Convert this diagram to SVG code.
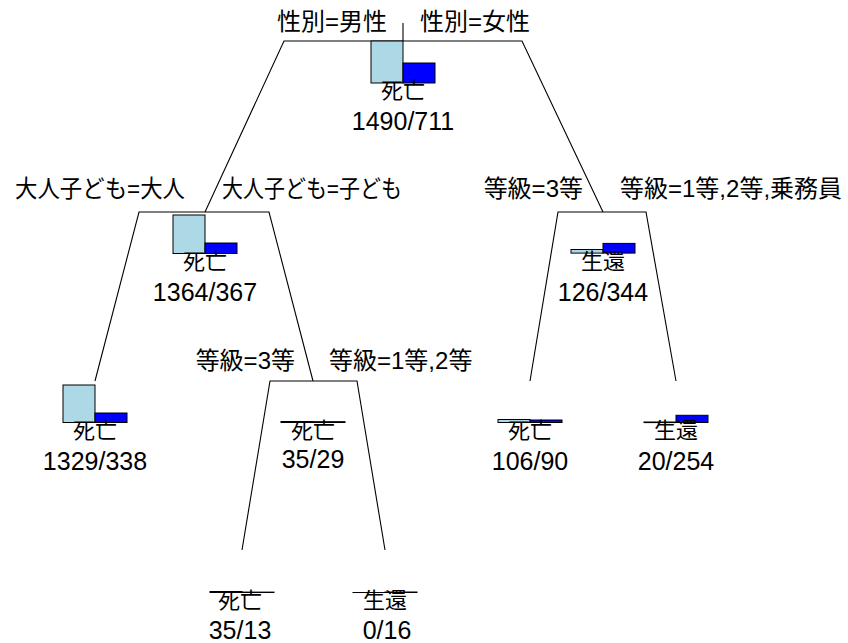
<svg xmlns="http://www.w3.org/2000/svg" width="848" height="643" viewBox="0 0 848 643">
<style>
.e{fill:none;stroke:#000;stroke-width:1.1}
.lb{fill:#ADD8E6;stroke:#000;stroke-width:1}
.bl{fill:#0000FF;stroke:#000;stroke-width:1}
text{font-family:"Liberation Sans","Noto Sans CJK JP",sans-serif;fill:#000}
.lab{font-size:24px}
.cls{font-size:22px;text-anchor:middle;font-family:"Noto Sans CJK JP",sans-serif}
.num{font-size:25px;text-anchor:middle}
.s{text-anchor:end}
</style>
<rect width="848" height="643" fill="#fff"/>
<g id="connectors">
<path class="e" d="M403,23V41"/>
<path class="e" d="M403,41H284L205,212"/>
<path class="e" d="M403,41H522L603,212"/>
<path class="e" d="M205,212H139L95,381"/>
<path class="e" d="M205,212H269L313,381"/>
<path class="e" d="M313,381H270L242,550"/>
<path class="e" d="M313,381H357L385,550"/>
<path class="e" d="M603,212H558L530,381"/>
<path class="e" d="M603,212H646L676,381"/>
</g>
<g id="split-labels">
<text class="lab s" x="387" y="30">性別=男性</text>
<text class="lab" x="420" y="30">性別=女性</text>
<text class="lab" x="15" y="197" textLength="170" lengthAdjust="spacingAndGlyphs">大人子ども=大人</text>
<text class="lab" x="222" y="197" textLength="180" lengthAdjust="spacingAndGlyphs">大人子ども=子ども</text>
<text class="lab s" x="583" y="197">等級=3等</text>
<text class="lab" x="620" y="197">等級=1等,2等,乗務員</text>
<text class="lab s" x="295" y="369">等級=3等</text>
<text class="lab" x="329" y="369">等級=1等,2等</text>
</g>
<g id="node-root">
<rect class="lb" x="371" y="41" width="32" height="42"/>
<rect class="bl" x="403" y="63" width="32" height="20"/>
<text class="cls" x="403" y="98">死亡</text>
<text class="num" x="403" y="130">1490/711</text>
</g>
<g id="node-adult">
<rect class="lb" x="173" y="215" width="32" height="38.5"/>
<rect class="bl" x="205" y="243" width="32" height="10.5"/>
<text class="cls" x="205" y="269">死亡</text>
<text class="num" x="205" y="301">1364/367</text>
</g>
<g id="node-female">
<rect class="lb" x="571" y="249.5" width="32" height="3.6"/>
<rect class="bl" x="603" y="243.4" width="32" height="9.7"/>
<text class="cls" x="603" y="269">生還</text>
<text class="num" x="603" y="301">126/344</text>
</g>
<g id="leaf-adult">
<rect class="lb" x="63" y="385" width="32" height="37.5"/>
<rect class="bl" x="95" y="413" width="32" height="9.5"/>
<text class="cls" x="95" y="438">死亡</text>
<text class="num" x="95" y="470">1329/338</text>
</g>
<g id="node-child">
<rect class="lb" x="281" y="421.5" width="32" height="1"/>
<rect class="bl" x="313" y="421.7" width="32" height="0.8"/>
<text class="cls" x="313" y="438">死亡</text>
<text class="num" x="313" y="468">35/29</text>
</g>
<g id="leaf-female-3">
<rect class="lb" x="498" y="419.5" width="32" height="3"/>
<rect class="bl" x="530" y="420" width="32" height="2.5"/>
<text class="cls" x="530" y="438">死亡</text>
<text class="num" x="530" y="470">106/90</text>
</g>
<g id="leaf-female-12">
<rect class="lb" x="644" y="422" width="32" height="0.6"/>
<rect class="bl" x="676" y="415.3" width="32" height="7.2"/>
<text class="cls" x="676" y="438">生還</text>
<text class="num" x="676" y="470">20/254</text>
</g>
<g id="leaf-child-3">
<rect class="lb" x="210" y="591.5" width="32" height="1"/>
<rect class="bl" x="242" y="592.1" width="32" height="0.4"/>
<text class="cls" x="240" y="608">死亡</text>
<text class="num" x="240" y="639">35/13</text>
</g>
<g id="leaf-child-12">
<rect class="lb" x="353" y="592.5" width="32" height="0.01"/>
<rect class="bl" x="385" y="592" width="32" height="0.5"/>
<text class="cls" x="385" y="608">生還</text>
<text class="num" x="387" y="639">0/16</text>
</g>
</svg>
